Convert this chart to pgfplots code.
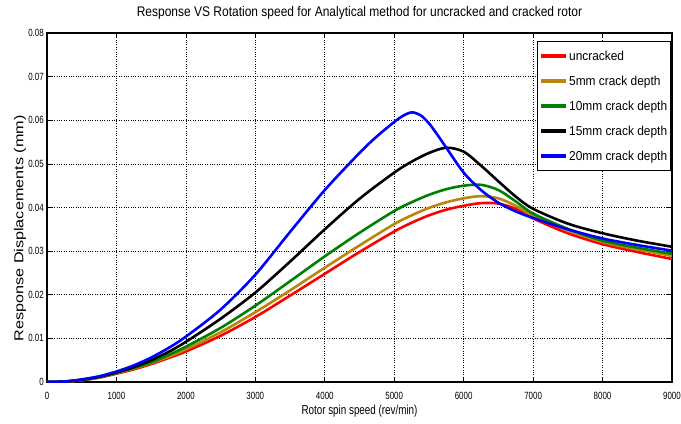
\documentclass[border=0pt]{standalone}
\usepackage{fontspec}
\setmainfont{Liberation Sans}
\newfontfamily\cond[FakeStretch=0.76]{Liberation Sans}
\newfontfamily\titlefont[FakeStretch=0.86]{Liberation Sans}
\newfontfamily\legfont[FakeStretch=0.92]{Liberation Sans}
\newfontfamily\ylabfont[FakeStretch=1.25]{Liberation Sans}
\usepackage{pgfplots}
\pgfplotsset{compat=1.18}
\usepackage{pgfplotstable}
\definecolor{crackred}{HTML}{FF0000}
\definecolor{crackbrown}{HTML}{B8860B}
\definecolor{crackgreen}{HTML}{008000}
\definecolor{crackblue}{HTML}{0000FF}

% columns: speed (rev/min), displacement (mm)
\pgfplotstableread{
x      y
0      0
250    0.0001
500    0.0004
750    0.0010
1000   0.0019
1250   0.0029
1500   0.0041
1750   0.0055
2000   0.0070
2500   0.0106
3000   0.0149
3500   0.0198
4000   0.0248
4500   0.0298
5000   0.0345
5250   0.0365
5500   0.0382
5750   0.0395
6000   0.0404
6250   0.0410
6500   0.0409
6750   0.0397
7000   0.0375
7500   0.0341
8000   0.0316
8500   0.0298
9000   0.0282
}\uncracked
\pgfplotstableread{
x      y
0      0
250    0.0001
500    0.0004
750    0.0011
1000   0.0020
1250   0.0031
1500   0.0043
1750   0.0058
2000   0.0075
2500   0.0114
3000   0.0160
3500   0.0210
4000   0.0262
4500   0.0313
5000   0.0362
5250   0.0382
5500   0.0399
5750   0.0412
6000   0.0421
6250   0.0426
6500   0.0421
6750   0.0404
7000   0.0381
7500   0.0347
8000   0.0321
8500   0.0304
9000   0.0289
}\crackfive
\pgfplotstableread{
x      y
0      0
250    0.0001
500    0.0005
750    0.0011
1000   0.0021
1250   0.0032
1500   0.0045
1750   0.0062
2000   0.0081
2500   0.0124
3000   0.0175
3500   0.0231
4000   0.0288
4500   0.0342
5000   0.0392
5250   0.0412
5500   0.0429
5750   0.0442
6000   0.0450
6250   0.0452
6500   0.0440
6750   0.0414
7000   0.0386
7500   0.0351
8000   0.0324
8500   0.0308
9000   0.0294
}\crackten
\pgfplotstableread{
x      y
0      0
250    0.0001
500    0.0005
750    0.0012
1000   0.0022
1250   0.0034
1500   0.0050
1750   0.0069
2000   0.0092
2500   0.0145
3000   0.0205
3500   0.0276
4000   0.0350
4500   0.0420
5000   0.0480
5250   0.0505
5500   0.0525
5750   0.0537
6000   0.0528
6250   0.0496
6500   0.0460
6750   0.0425
7000   0.0397
7500   0.0363
8000   0.0341
8500   0.0324
9000   0.0310
}\crackfifteen
\pgfplotstableread{
x      y
0      0
250    0.0001
500    0.0006
750    0.0013
1000   0.0024
1250   0.0038
1500   0.0056
1750   0.0078
2000   0.0104
2500   0.0166
3000   0.0246
3500   0.0344
4000   0.0440
4500   0.0525
4750   0.0563
5000   0.0596
5125   0.0610
5250   0.0618
5375   0.0612
5500   0.0593
5625   0.0566
5750   0.0537
6000   0.0480
6250   0.0440
6500   0.0411
6750   0.0391
7000   0.0376
7500   0.0350
8000   0.0329
8500   0.0314
9000   0.0301
}\cracktwenty

\begin{document}
\begin{tikzpicture}
\begin{axis}[
  scale only axis,
  width=625bp, height=349bp,
  xmin=0, xmax=9000, ymin=0, ymax=0.08,
  scaled x ticks=false, scaled y ticks=false,
  xtick={0,1000,...,9000},
  xticklabels={0,1000,2000,3000,4000,5000,6000,7000,8000,9000},
  ytick={0,0.01,...,0.08},
  yticklabels={0,0.01,0.02,0.03,0.04,0.05,0.06,0.07,0.08},
  tick label style={font=\cond\fontsize{10.5}{11}\selectfont},
  xticklabel style={inner sep=0pt, yshift=-10bp},
  yticklabel style={inner sep=0pt, xshift=-3bp},
  tick align=inside,
  major tick length=5bp,
  tick style={black, line width=0.6bp},
  grid=major,
  grid style={black, dotted, line width=0.6bp},
  axis line style={black, line width=1.3bp},
  title={Response VS Rotation speed for Analytical method for uncracked and cracked rotor},
  title style={font=\titlefont\fontsize{14}{16}\selectfont, at={(axis description cs:0.5,1.040)}, anchor=center, yshift=0pt, inner sep=0pt},
  xlabel={Rotor spin speed (rev/min)},
  xlabel style={font=\cond\fontsize{13}{15}\selectfont, at={(axis description cs:0.5,-0.083)}, anchor=center, inner sep=0pt},
  ylabel={Response Displacements (mm)},
  ylabel style={font=\ylabfont\fontsize{13}{15}\selectfont, at={(axis description cs:-0.043,0.44)}, anchor=center, inner sep=0pt},
  legend cell align=left,
  legend style={at={(axis description cs:0.998,0.977)}, anchor=north east,
    draw=black, line width=1.2bp, fill=white,
    font=\legfont\fontsize{13}{15}\selectfont,
    inner xsep=2bp, inner ysep=5.5bp, row sep=7bp,
    nodes={inner sep=1bp, text height=12bp, text depth=4bp}},
  legend image code/.code={\draw[#1, line width=3.5bp] (0bp,0bp) -- (25bp,0bp);},
  every axis plot/.append style={line width=2.6bp, smooth},
]
\addplot[crackred] table {\uncracked};
\addlegendentry{uncracked}
\addplot[crackbrown] table {\crackfive};
\addlegendentry{5mm crack depth}
\addplot[crackgreen] table {\crackten};
\addlegendentry{10mm crack depth}
\addplot[black] table {\crackfifteen};
\addlegendentry{15mm crack depth}
\addplot[crackblue] table {\cracktwenty};
\addlegendentry{20mm crack depth}
\end{axis}
\pgfresetboundingbox
\useasboundingbox (-47bp,-42bp) rectangle (634bp,382bp);
\end{tikzpicture}
\end{document}
